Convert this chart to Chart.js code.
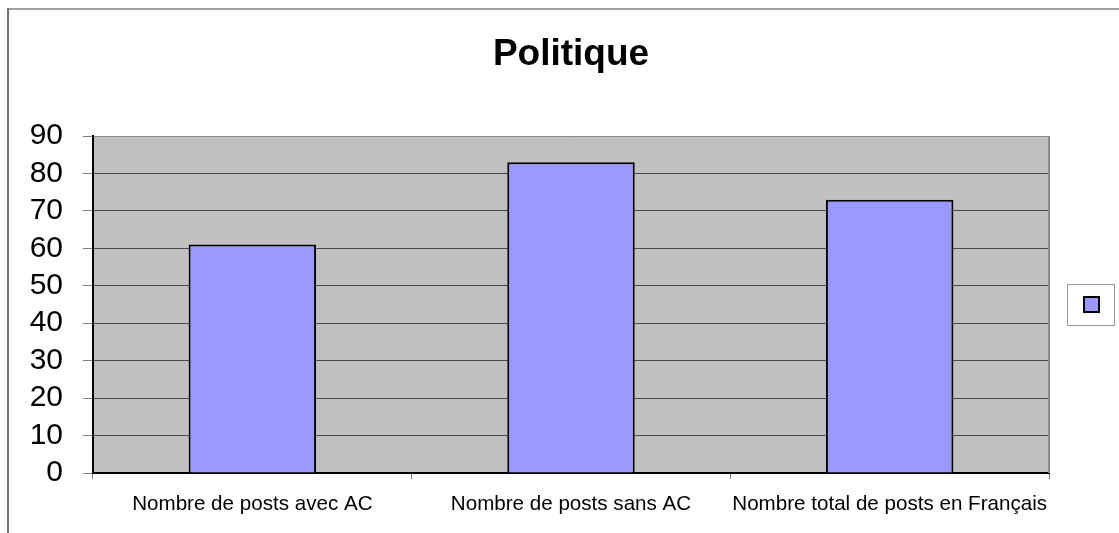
<!DOCTYPE html>
<html>
<head>
<meta charset="utf-8">
<script src="https://cdn.jsdelivr.net/npm/chart.js@4"></script>
<style>
  html, body { margin: 0; padding: 0; background: #ffffff; }
  canvas { display: block; }
</style>
</head>
<body>
<canvas id="c" width="1119" height="533"></canvas>
<script>
const title = 'Politique';
const categories = ['Nombre de posts avec AC', 'Nombre de posts sans AC', 'Nombre total de posts en Français'];
const values = [61, 83, 73];
const yMin = 0;
const yMax = 90;
const yStep = 10;

const FONT = "'Liberation Sans', Arial, Helvetica, sans-serif";

const decor = {
  id: 'decor',
  beforeDraw(chart) {
    const ctx = chart.ctx;
    const a = chart.chartArea;
    ctx.save();
    ctx.fillStyle = '#ffffff';
    ctx.fillRect(0, 0, chart.width, chart.height);
    ctx.fillStyle = '#c0c0c0';
    ctx.fillRect(a.left, a.top, a.right - a.left, a.bottom - a.top);
    ctx.restore();
  },
  afterDraw(chart) {
    const ctx = chart.ctx;
    const a = chart.chartArea;
    ctx.save();
    ctx.strokeStyle = '#888888';
    ctx.lineWidth = 2;
    ctx.beginPath();
    ctx.moveTo(a.right, a.top);
    ctx.lineTo(a.right, a.bottom);
    ctx.stroke();
    ctx.strokeStyle = '#a0a0a0';
    ctx.lineWidth = 2;
    ctx.beginPath();
    ctx.moveTo(chart.width, 9);
    ctx.lineTo(8, 9);
    ctx.stroke();
    ctx.strokeStyle = '#707070';
    ctx.beginPath();
    ctx.moveTo(8, 8);
    ctx.lineTo(8, chart.height);
    ctx.stroke();
    const lg = chart.legend;
    if (lg && lg.legendHitBoxes && lg.legendHitBoxes.length) {
      const hb = lg.legendHitBoxes[0];
      const cx = hb.left + 7.5;
      const cy = hb.top + hb.height / 2;
      ctx.strokeStyle = '#999999';
      ctx.lineWidth = 1;
      ctx.strokeRect(Math.round(cx - 25) + 0.5, Math.round(cy - 21) + 0.5, 47, 41);
    }
    ctx.restore();
  }
};

new Chart(document.getElementById('c'), {
  type: 'bar',
  data: {
    labels: categories,
    datasets: [{
      label: '',
      data: values,
      backgroundColor: '#9999ff',
      borderColor: '#000000',
      borderWidth: 2,
      barPercentage: 0.4,
      categoryPercentage: 1.0
    }]
  },
  options: {
    responsive: false,
    devicePixelRatio: 1,
    animation: false,
    layout: { padding: { left: 0, right: 4, top: 0, bottom: 0 } },
    plugins: {
      title: {
        display: true,
        fullSize: false,
        text: title,
        color: '#000000',
        font: { family: FONT, size: 37, weight: 'bold' },
        padding: { top: 33, bottom: 58.6 }
      },
      legend: {
        display: true,
        fullSize: false,
        position: 'right',
        labels: {
          boxWidth: 15,
          boxHeight: 15,
          padding: 35,
          font: { family: FONT, size: 12 },
          color: '#000000'
        }
      },
      tooltip: { enabled: false }
    },
    scales: {
      x: {
        grid: {
          offset: true,
          drawOnChartArea: false,
          tickLength: 6,
          tickColor: '#808080',
          tickWidth: 1
        },
        border: { color: '#000000', width: 2 },
        ticks: {
          color: '#000000',
          padding: 13,
          maxRotation: 0,
          autoSkip: false,
          font: { family: FONT, size: 20.6 }
        },
        afterFit(scale) { scale.height = 60; }
      },
      y: {
        min: yMin,
        max: yMax,
        grid: {
          color: (c) => (c.tick && c.tick.value === yMax) ? '#8a8a8a' : '#4a4a4a',
          lineWidth: 1,
          tickLength: 10,
          tickColor: '#808080'
        },
        border: { color: '#000000', width: 2 },
        ticks: {
          stepSize: yStep,
          autoSkip: false,
          color: '#000000',
          padding: 20,
          font: { family: FONT, size: 30 }
        },
        afterFit(scale) { scale.width = 93; }
      }
    }
  },
  plugins: [decor]
});
</script>
</body>
</html>
